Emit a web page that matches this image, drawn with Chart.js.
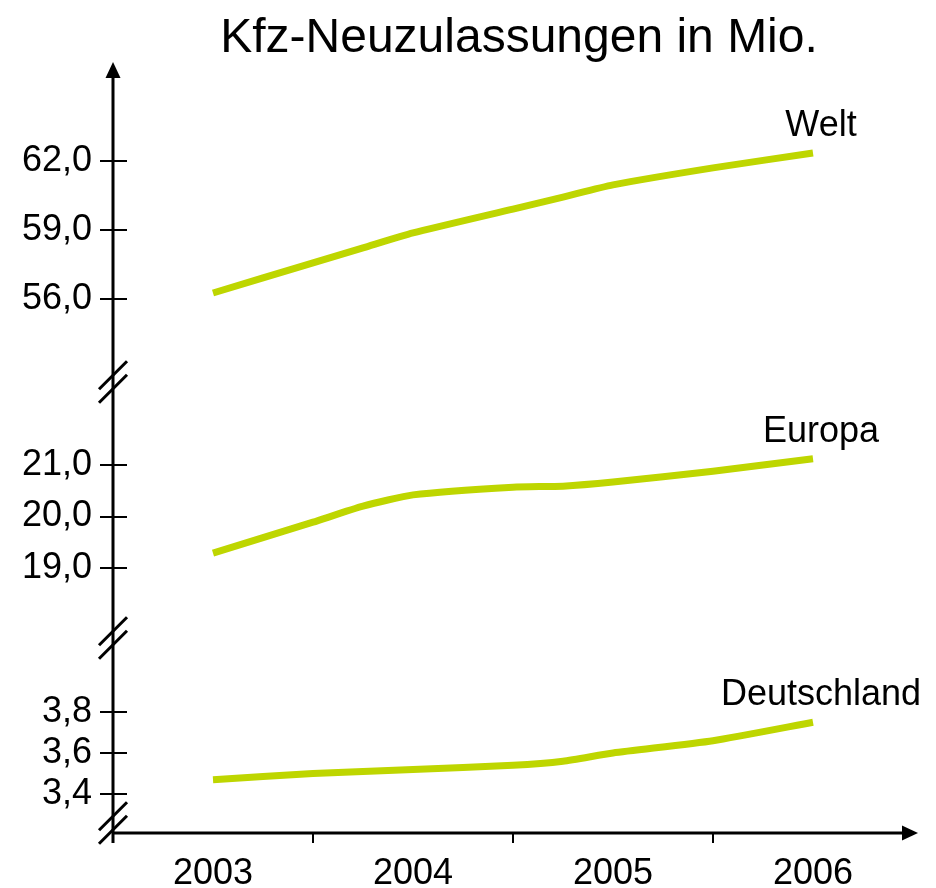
<!DOCTYPE html>
<html lang="de">
<head>
<meta charset="utf-8">
<title>Kfz-Neuzulassungen in Mio.</title>
<script src="https://cdn.jsdelivr.net/npm/chart.js@4/dist/chart.umd.min.js"></script>
<style>
    html, body { margin: 0; padding: 0; background: #fff; }
    #wrap { width: 936px; height: 888px; }
</style>
</head>
<body>
<div id="wrap"><canvas id="neuzulassungenChart" width="936" height="888"></canvas></div>
<script>
// Daten
const chartTitle = 'Kfz-Neuzulassungen in Mio.';
const years = [2003, 2003.5, 2003.75, 2004, 2004.5, 2004.75, 2005, 2005.5, 2006];
const yearLabels = [2003, 2004, 2005, 2006];
const yearTickMarks = [2003.5, 2004.5, 2005.5];
const seriesNames = ['Welt', 'Europa', 'Deutschland'];
const welt = [56.26, 57.57, 58.22, 58.87, 59.91, 60.43, 60.96, 61.70, 62.35];
const europa = [19.29, 19.89, 20.20, 20.42, 20.57, 20.59, 20.67, 20.88, 21.12];
const deutschland = [3.47, 3.50, 3.51, 3.52, 3.54, 3.56, 3.60, 3.66, 3.75];
const weltTicks = [56, 59, 62];
const europaTicks = [19, 20, 21];
const deutschlandTicks = [3.4, 3.6, 3.8];

const lineColor = '#BED600';
const fontFamily = '"Liberation Sans", Arial, Helvetica, sans-serif';

Chart.defaults.font.family = fontFamily;
Chart.defaults.color = '#000';

function toPoints(values) {
    return years.map((x, i) => ({ x: x, y: values[i] }));
}

function deNumber(v) {
    return v.toFixed(1).replace('.', ',');
}

function yScale(ticks, min, max, weight) {
    return {
        type: 'linear',
        position: 'left',
        stack: 'brokenAxis',
        stackWeight: weight,
        min: min,
        max: max,
        grid: { display: false, drawTicks: false },
        border: { display: false },
        afterBuildTicks: scale => { scale.ticks = ticks.map(v => ({ value: v })); },
        afterFit: scale => { scale.width = 113; },
        ticks: {
            padding: 21,
            font: { size: 36 },
            callback: v => deNumber(v)
        }
    };
}

function drawLine(ctx, x1, y1, x2, y2) {
    ctx.beginPath();
    ctx.moveTo(x1, y1);
    ctx.lineTo(x2, y2);
    ctx.stroke();
}

// Achsen mit Pfeilen, Bruchzeichen, Reihenbeschriftung und Titel
const axisDecor = {
    id: 'axisDecor',
    afterDraw(chart) {
        const { ctx, chartArea: area, scales } = chart;
        const left = area.left;
        const bottom = area.bottom;
        ctx.save();
        ctx.strokeStyle = '#000';
        ctx.fillStyle = '#000';

        ctx.lineWidth = 3;
        drawLine(ctx, left, area.top + 10, left, bottom + 10);
        drawLine(ctx, left, bottom, area.right - 5, bottom);

        ctx.beginPath();
        ctx.moveTo(left, area.top);
        ctx.lineTo(left - 7.5, area.top + 16);
        ctx.lineTo(left + 7.5, area.top + 16);
        ctx.closePath();
        ctx.fill();

        ctx.beginPath();
        ctx.moveTo(area.right + 5, bottom);
        ctx.lineTo(area.right - 11, bottom - 7.5);
        ctx.lineTo(area.right - 11, bottom + 7.5);
        ctx.closePath();
        ctx.fill();

        ctx.lineWidth = 2;
        ['yWelt', 'yEuropa', 'yDeutschland'].forEach(id => {
            const s = scales[id];
            s.ticks.forEach(t => {
                const y = Math.round(s.getPixelForValue(t.value));
                drawLine(ctx, left - 13, y, left + 14, y);
            });
        });
        yearTickMarks.forEach(v => {
            const x = Math.round(scales.x.getPixelForValue(v));
            drawLine(ctx, x, bottom, x, bottom + 10);
        });

        ctx.lineWidth = 3;
        [scales.yWelt.bottom, scales.yEuropa.bottom, bottom - 10].forEach(c => {
            [-6.75, 6.75].forEach(off => {
                drawLine(ctx, left - 14, c + off + 14, left + 14, c + off - 14);
            });
        });

        ctx.font = '36px ' + fontFamily;
        ctx.textAlign = 'center';
        ctx.textBaseline = 'middle';
        chart.data.datasets.forEach((ds, i) => {
            const last = chart.getDatasetMeta(i).data.at(-1);
            ctx.fillText(ds.label, last.x + 8, last.y - 27);
        });

        ctx.font = '48px ' + fontFamily;
        ctx.textBaseline = 'alphabetic';
        ctx.fillText(chartTitle, (area.left + area.right) / 2 + 6, 52);
        ctx.restore();
    }
};

const lineStyle = {
    borderColor: lineColor,
    backgroundColor: lineColor,
    borderWidth: 7,
    pointRadius: 0,
    tension: 0.2,
    fill: false
};

new Chart(document.getElementById('neuzulassungenChart'), {
    type: 'line',
    data: {
        datasets: [
            Object.assign({ label: seriesNames[0], data: toPoints(welt), yAxisID: 'yWelt' }, lineStyle),
            Object.assign({ label: seriesNames[1], data: toPoints(europa), yAxisID: 'yEuropa' }, lineStyle),
            Object.assign({ label: seriesNames[2], data: toPoints(deutschland), yAxisID: 'yDeutschland' }, lineStyle)
        ]
    },
    options: {
        responsive: false,
        animation: false,
        layout: { padding: { top: 62, right: 23, bottom: 0, left: 0 } },
        plugins: {
            legend: { display: false },
            title: { display: false },
            tooltip: { enabled: false }
        },
        scales: {
            x: {
                type: 'linear',
                min: 2002.5,
                max: 2006.5,
                grid: { display: false, drawTicks: false },
                border: { display: false },
                afterBuildTicks: scale => { scale.ticks = yearLabels.map(v => ({ value: v })); },
                afterFit: scale => { scale.height = 55; },
                ticks: {
                    padding: 19,
                    font: { size: 36 },
                    maxRotation: 0,
                    callback: v => String(v)
                }
            },
            yDeutschland: yScale(deutschlandTicks, 3.21, 4.161, 195),
            yEuropa: yScale(europaTicks, 17.641, 22.612, 256),
            yWelt: yScale(weltTicks, 52.391, 66.304, 320)
        }
    },
    plugins: [axisDecor]
});
</script>
</body>
</html>
